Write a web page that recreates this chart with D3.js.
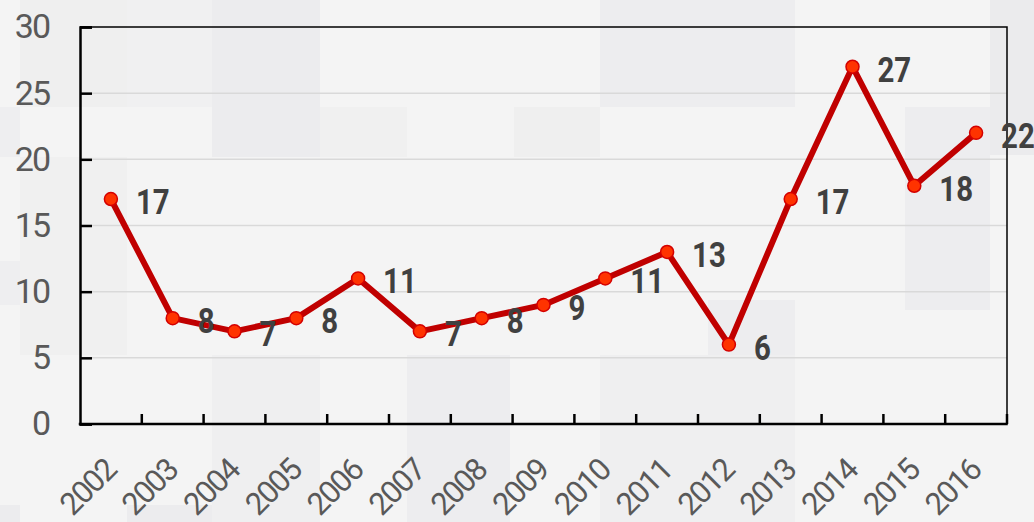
<!DOCTYPE html>
<html>
<head>
<meta charset="utf-8">
<script src="https://cdn.jsdelivr.net/npm/d3@7"></script>
<style>
    html, body { margin: 0; padding: 0; background: #f4f4f4; }
    svg { display: block; }
</style>
</head>
<body>
<svg id="chart"></svg>
<script>
// Chart data
let years = ["2002", "2003", "2004", "2005", "2006", "2007", "2008", "2009",
             "2010", "2011", "2012", "2013", "2014", "2015", "2016"];
let values = [17, 8, 7, 8, 11, 7, 8, 9, 11, 13, 6, 17, 27, 18, 22];
let yTicks = [0, 5, 10, 15, 20, 25, 30];

// faint background tiles (decoration only)
let bgTiles = [
    [20, 0, 107, 107, "#efefef"], [127, 0, 85, 107, "#f0f0f1"], [212, 0, 108, 157, "#ececee"],
    [600, 0, 195, 107, "#ededef"], [990, 0, 44, 155, "#ebebed"], [0, 107, 20, 50, "#eeeef0"],
    [320, 107, 87, 50, "#f0f0f0"], [905, 107, 85, 203, "#ededef"], [514, 107, 86, 50, "#efefef"],
    [20, 157, 107, 198, "#f0f0f0"], [0, 261, 20, 44, "#eeeef0"], [212, 355, 108, 167, "#efeff0"],
    [407, 355, 103, 167, "#ededef"], [600, 355, 195, 167, "#efeff0"], [708, 300, 87, 55, "#ededef"],
    [0, 505, 20, 17, "#ececee"], [127, 505, 85, 17, "#ececee"]
];

let width = 1034;
let height = 522;
let plotLeft = 80, plotRight = 1007, plotTop = 27, plotBottom = 424;

let svg = d3.select("#chart").attr("width", width).attr("height", height);

svg.selectAll(".tile")
    .data(bgTiles)
    .enter()
    .append("rect")
    .attr("class", "tile")
    .attr("x", d => d[0]).attr("y", d => d[1])
    .attr("width", d => d[2]).attr("height", d => d[3])
    .attr("fill", d => d[4]);

let x = d3.scaleBand().domain(years).range([plotLeft, plotRight]).padding(0);
let y = d3.scaleLinear().domain([0, 30]).range([plotBottom, plotTop]);

// grid lines
svg.selectAll(".grid")
    .data(yTicks.filter(t => t > 0 && t < 30))
    .enter()
    .append("line")
    .attr("x1", plotLeft).attr("x2", plotRight)
    .attr("y1", d => y(d)).attr("y2", d => y(d))
    .attr("stroke", "#d9d9d9")
    .attr("stroke-width", 1.5);

// frame top and right
svg.append("path")
    .attr("d", "M" + plotLeft + "," + plotTop + "H" + plotRight + "V" + plotBottom)
    .attr("fill", "none")
    .attr("stroke", "#000")
    .attr("stroke-width", 1.5);

// y axis
let yAxis = svg.append("g")
    .attr("transform", "translate(" + plotLeft + ",0)")
    .call(d3.axisLeft(y).tickValues(yTicks).tickSize(-12).tickPadding(31));
yAxis.select(".domain").attr("stroke", "#000").attr("stroke-width", 2.5);
yAxis.selectAll(".tick line").attr("stroke", "#000").attr("stroke-width", 2.5);
yAxis.selectAll(".tick text")
    .attr("fill", "#595959")
    .style("font-family", "Roboto, 'Open Sans', sans-serif")
    .style("font-size", "34px")
    .style("letter-spacing", "-2px");

// x axis: ticks between the categories, pointing inward
let bounds = years.map(d => x(d) + x.bandwidth());
svg.selectAll(".xtick")
    .data(bounds)
    .enter()
    .append("line")
    .attr("x1", d => d).attr("x2", d => d)
    .attr("y1", plotBottom).attr("y2", plotBottom - 10)
    .attr("stroke", "#000")
    .attr("stroke-width", 2.5);

svg.append("line")
    .attr("x1", plotLeft - 1.25).attr("x2", plotRight + 0.75)
    .attr("y1", plotBottom).attr("y2", plotBottom)
    .attr("stroke", "#000")
    .attr("stroke-width", 2.5);

svg.selectAll(".xlabel")
    .data(years)
    .enter()
    .append("text")
    .attr("transform", d => "translate(" + (x(d) + x.bandwidth() / 2 + 7) + "," + 472 + ") rotate(-45)")
    .attr("text-anchor", "end")
    .attr("fill", "#595959")
    .style("font-family", "Roboto, 'Open Sans', sans-serif")
    .style("font-size", "31px")
    .style("letter-spacing", "-1.5px")
    .text(d => d);

// line and markers
let cx = (d, i) => x(years[i]) + x.bandwidth() / 2;
let line = d3.line().x(cx).y(d => y(d));

svg.append("path")
    .datum(values)
    .attr("d", line)
    .attr("fill", "none")
    .attr("stroke", "#c00000")
    .attr("stroke-width", 6)
    .attr("stroke-linejoin", "round");

svg.selectAll(".dot")
    .data(values)
    .enter()
    .append("circle")
    .attr("cx", cx)
    .attr("cy", d => y(d))
    .attr("r", 6.5)
    .attr("fill", "#ff3300")
    .attr("stroke", "#d40000")
    .attr("stroke-width", 1.5);

// value labels, squeezed horizontally to look condensed
svg.selectAll(".valueLabel")
    .data(values)
    .enter()
    .append("text")
    .attr("transform", (d, i) => "translate(" + (cx(d, i) + 25) + "," + (y(d) + 3) + ") scale(0.84,1)")
    .attr("dominant-baseline", "central")
    .attr("fill", "#404040")
    .style("font-family", "Roboto, sans-serif")
    .style("font-weight", "bold")
    .style("font-size", "35px")
    .text(d => d);
</script>
</body>
</html>
